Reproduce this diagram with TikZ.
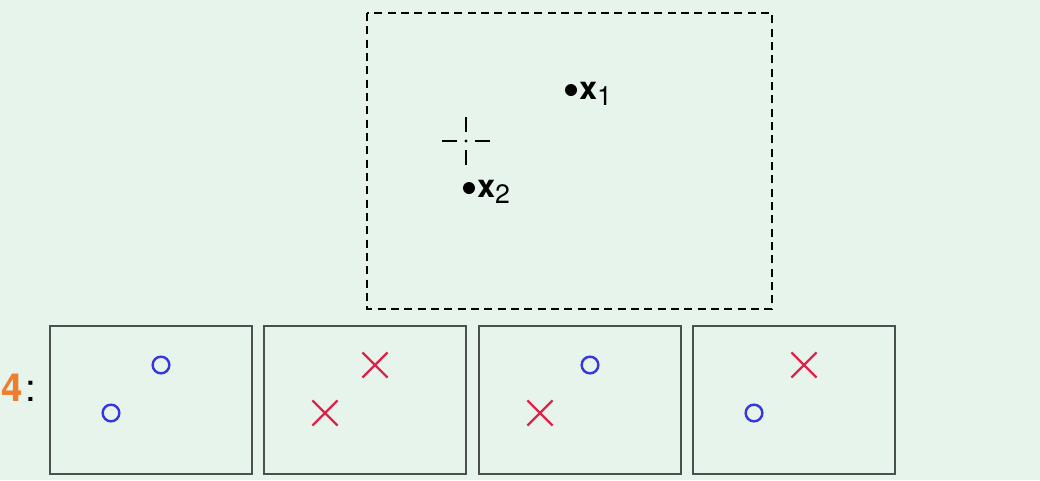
\documentclass[tikz,border=0pt]{standalone}
\usepackage{fontspec}
\setsansfont{TeX Gyre Heros}
\usetikzlibrary{shapes.misc}
\definecolor{bgmint}{RGB}{230,244,236}
\definecolor{oblue}{RGB}{55,55,225}
\definecolor{xred}{RGB}{222,35,75}
\definecolor{numorange}{RGB}{240,125,45}
\definecolor{boxgray}{RGB}{75,80,78}
\newcommand{\vecx}[1]{{\fontsize{24}{24}\selectfont\bfseries x}\raisebox{-5pt}{\fontsize{20}{20}\selectfont #1}}
\begin{document}
\begin{tikzpicture}[x=.75pt, y=-.75pt, font=\sffamily,
    omark/.style={circle, draw=oblue, line width=1.8pt, minimum size=12.5pt, inner sep=0pt},
    xmark/.style={cross out, draw=xred, line width=1.8pt, minimum size=17pt, inner sep=0pt}]
\fill[bgmint](0,0) rectangle (1040,480);
\draw[dash pattern=on 6pt off 4pt, line width=.9pt](367,13) rectangle (772,309);
% the two points and the centre
\fill(571,90) circle (6);
\node[anchor=base west, inner sep=0pt] (xone) at (579,99) {\vecx{1}};
\fill(469,188) circle (6);
\node[anchor=base west, inner sep=0pt] (xtwo) at (477,197) {\vecx{2}};
\draw[line width=2.2pt](442,141)--(457,141) (475,141)--(490,141)
    (466,117)--(466,132) (466,150)--(466,165);
\fill(466,141) circle (1.6);
% the four labellings
\node[anchor=west, inner sep=0pt, font=\sffamily\fontsize{29}{29}\selectfont] (four) at (1,388)
    {\textcolor{numorange}{\bfseries 4}\kern2pt:};
\foreach \bx/\up/\lo [count=\i] in {50/omark/omark, 264/xmark/xmark, 479/omark/xmark, 693/xmark/omark}
{
    \draw[boxgray, line width=1.8pt](\bx,326) rectangle ++(202,148);
    \node[\up] (up\i) at (\bx+111,365) {};
    \node[\lo] (lo\i) at (\bx+61,413) {};
}
\end{tikzpicture}
\end{document}
